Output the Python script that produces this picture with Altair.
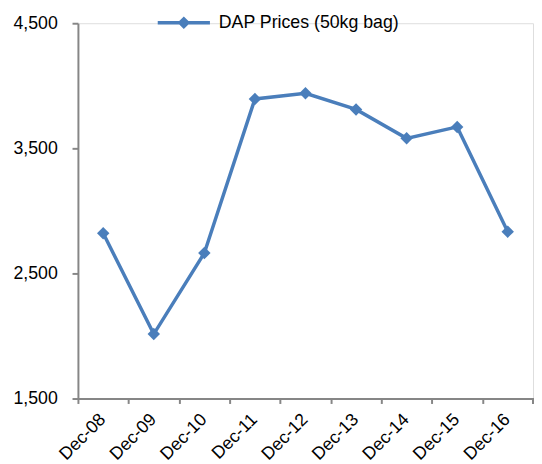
import altair as alt
import pandas as pd

categories = ["Dec-08", "Dec-09", "Dec-10", "Dec-11", "Dec-12", "Dec-13", "Dec-14", "Dec-15", "Dec-16"]
prices = [2821, 2015, 2663, 3895, 3940, 3811, 3580, 3671, 2834]
series_name = "DAP Prices (50kg bag)"
y_ticks = [1500, 2500, 3500, 4500]

df = pd.DataFrame({"month": categories, "price": prices, "series": [series_name] * len(categories)})

BLUE = "#4a7ebb"
GREY = "#868686"
W, H = 462, 381
step = W / len(categories)
FONT = "Liberation Sans"

x = alt.X("month:N", sort=categories, title=None,
          scale=alt.Scale(type="point", padding=0.5),
          axis=alt.Axis(labelAngle=-45, labelAlign="right", labelBaseline="top",
                        tickOffset=-step / 2, labelOffset=step / 2 - 7,
                        labelPadding=7, tickSize=5, labelFontSize=18,
                        labelFont=FONT, labelColor="#000000",
                        domainColor=GREY, tickColor=GREY,
                        domainWidth=2, tickWidth=2))
y = alt.Y("price:Q", title=None,
          scale=alt.Scale(domain=[1500, 4500], nice=False, zero=False),
          axis=alt.Axis(values=y_ticks, format=",d", tickSize=6, labelPadding=15,
                        labelFontSize=18, labelFont=FONT, labelColor="#000000",
                        domainColor=GREY, tickColor=GREY,
                        domainWidth=2, tickWidth=2, grid=False))
color = alt.Color("series:N", scale=alt.Scale(range=[BLUE]), title=None,
                  legend=alt.Legend(orient="none", legendX=79, legendY=-29,
                                    symbolType="M-1,0L1,0M-0.15,0L0,-0.15L0.15,0L0,0.15Z",
                                    symbolSize=2809, symbolStrokeWidth=3.5,
                                    symbolFillColor=BLUE, symbolStrokeColor=BLUE,
                                    labelFontSize=18, labelFont=FONT,
                                    labelColor="#000000", labelOffset=7, padding=0,
                                    labelLimit=400))

line = alt.Chart(df).mark_line(strokeWidth=3.5).encode(x=x, y=y, color=color)
pts = alt.Chart(df).mark_point(shape="diamond", filled=True, size=160, opacity=1).encode(x=x, y=y, color=color)
end_tick = alt.Chart(df).mark_rule(color=GREY, strokeWidth=2).encode(
    x=alt.value(W), y=alt.value(H), y2=alt.value(H + 5))

chart = alt.layer(line, pts, end_tick).properties(
    width=W, height=H,
    autosize=alt.AutoSizeParams(type="none"),
    padding={"left": 71, "top": 12, "right": 1, "bottom": 63},
).configure_view(stroke=None).configure(background="white")

chart.save("out.html", embed_options={"renderer": "svg", "actions": False})
